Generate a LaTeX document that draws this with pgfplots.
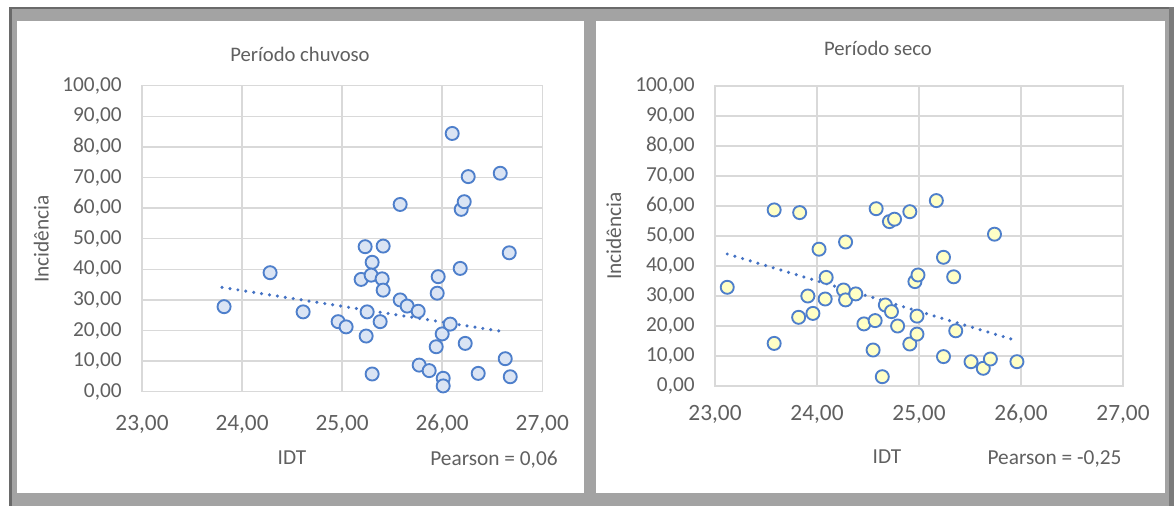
\documentclass[border=0pt]{standalone}
\usepackage{pgfplots}
\pgfplotsset{compat=1.18}
\usepackage{fontspec}
\setmainfont{Carlito}
\definecolor{textc}{HTML}{606060}
\definecolor{gridc}{HTML}{D9D9D9}
\definecolor{edgec}{HTML}{4E7FCB}
\definecolor{trendc}{HTML}{4472C4}
\definecolor{fillblue}{HTML}{DAE4F4}
\definecolor{fillyel}{HTML}{FFFFC6}
\definecolor{framec}{HTML}{A3A3A3}
\definecolor{framedark}{HTML}{6A6A6A}
\pgfplotsset{
  excel/.style={
    anchor=south west, scale only axis,
    xmin=23, xmax=27, ymin=0, ymax=100,
    xtick={23,24,25,26,27}, ytick={0,10,...,100},
    grid=major, major grid style={color=gridc, line width=1.1pt},
    axis line style={color=gridc, line width=1.1pt},
    major tick length=0pt, tick style={draw=none},
    clip=false,
    y tick label style={font=\fontsize{16}{19}\selectfont, text=textc, anchor=east, inner sep=0pt, xshift=-15pt},
    x tick label style={font=\fontsize{17.5}{20}\selectfont, text=textc, anchor=base, inner sep=0pt},
    /pgf/number format/fixed, /pgf/number format/fixed zerofill,
    /pgf/number format/precision=2, /pgf/number format/use comma,
    /pgf/number format/1000 sep={}, /pgf/number format/assume math mode=true,
  },
  pts/.style={only marks, mark=*, mark size=4.9pt, mark options={draw=edgec, fill=#1, line width=1.4pt}},
  trend/.style={draw=trendc, line width=2.6pt, dash pattern=on 0pt off 6pt, line cap=round},
}
\begin{document}
\begin{tikzpicture}
\begin{scope}[x=0.75pt, y=-0.75pt]
  \fill[white] (0,0) rectangle (1174,506);
  \fill[framec] (9,7) rectangle (1174,506);
  \fill[framedark] (9,7) rectangle (1174,9.5);
  \fill[framedark] (9,7) rectangle (12,506);
  \fill[framedark!70!framec] (1169,7) rectangle (1174,506);
  \fill[white] (17,21) rectangle (584,493);
  \fill[white] (596,21) rectangle (1165,493);
  \begin{scope}[text=textc, font=\fontsize{15.5}{18}\selectfont]
    \node[anchor=base, inner sep=0pt] at (300,62) {Período chuvoso};
    \node[anchor=base, inner sep=0pt] at (878,56) {Período seco};
  \end{scope}
  \begin{scope}[text=textc, font=\fontsize{16}{19}\selectfont]
    \node[anchor=base, inner sep=0pt, rotate=90] at (48.5,239) {Incidência};
    \node[anchor=base, inner sep=0pt, rotate=90] at (621,236) {Incidência};
    \node[anchor=base, inner sep=0pt] at (292,464) {IDT};
    \node[anchor=base, inner sep=0pt] at (887,463) {IDT};
    \node[anchor=base, inner sep=0pt] at (494,465) {Pearson = 0,06};
    \node[anchor=base, inner sep=0pt] at (1054.5,464) {Pearson = -0,25};
  \end{scope}
\end{scope}

\begin{axis}[excel, at={(106.5pt,-293.8pt)}, width=300.2pt, height=229.5pt,
  x tick label style={yshift=-29.25pt}]
\addplot[pts=fillblue] coordinates {
(23.82,27.8) (24.28,38.9) (24.61,26.1) (24.96,22.9) (25.04,21.2)
(25.23,47.4) (25.41,47.6) (25.30,42.3) (25.19,36.7) (25.29,38.1)
(25.40,36.9) (25.41,33.2) (25.25,26.1) (25.24,18.2) (25.38,22.9)
(25.30,5.8) (25.58,61.2) (25.58,30.0) (25.65,28.0) (25.76,26.3)
(25.77,8.7) (25.87,6.9) (25.96,37.6) (25.95,32.2) (26.00,18.9)
(25.94,14.7) (26.08,22.1) (26.01,4.4) (26.01,1.9) (26.10,84.4)
(26.26,70.3) (26.19,59.6) (26.22,62.1) (26.18,40.3) (26.23,15.8)
(26.36,6.0) (26.58,71.4) (26.67,45.4) (26.63,10.8) (26.68,4.9)
};
\addplot[trend] coordinates {(23.80,34.1) (26.64,19.5)};
\end{axis}

\begin{axis}[excel, at={(536.25pt,-289.5pt)}, width=306pt, height=225pt,
  x tick label style={yshift=-26pt}]
\addplot[pts=fillyel] coordinates {
(23.12,32.9) (23.58,58.7) (23.83,57.8) (23.58,14.2) (23.82,22.9)
(23.91,30.0) (23.96,24.2) (24.02,45.6) (24.09,36.2) (24.08,29.0)
(24.28,48.0) (24.26,32.0) (24.28,28.7) (24.38,30.7) (24.46,20.7)
(24.57,21.8) (24.55,12.0) (24.58,59.1) (24.64,3.1) (24.67,27.0)
(24.73,24.8) (24.71,54.8) (24.76,55.6) (24.79,20.0) (24.91,58.1)
(24.91,14.0) (24.96,34.8) (24.99,37.0) (24.98,23.3) (24.98,17.3)
(25.17,61.8) (25.24,42.9) (25.24,9.8) (25.34,36.4) (25.36,18.4)
(25.51,8.1) (25.63,5.9) (25.70,9.0) (25.74,50.6) (25.96,8.1)
};
\addplot[trend] coordinates {(23.12,44.0) (25.91,15.6)};
\end{axis}
\end{tikzpicture}
\end{document}
